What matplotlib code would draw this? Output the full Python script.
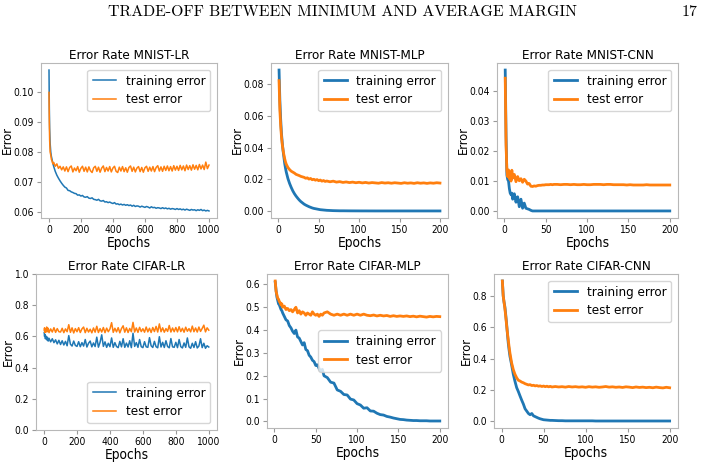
import matplotlib
matplotlib.use("Agg")
import matplotlib.pyplot as plt

plt.rcParams['font.family'] = ['DejaVu Sans']
plt.rcParams['font.stretch'] = 'condensed'

# ---- data ----
epochs_lr = [1, 3, 5, 8, 12, 16, 20, 25, 30, 40, 50, 60, 70, 80, 90] + list(range(100, 1001, 10))
epochs_nn = ([1, 2, 3, 4, 5, 6, 7, 8, 9, 10]
             + list(range(12, 61, 2))
             + list(range(64, 201, 4)))

mnist_lr_train = [
    .1075, .0950, .0880, .0830, .0800, .0785, .0775, .0762, .0752, .0735, .0722, .0712, .0703, .0695, .0688,
    .0682, .0679, .0671, .0670, .0666, .0664, .0661, .0660, .0655, .0656,
    .0652, .0654, .0649, .0648, .0650, .0645, .0644, .0646, .0641, .0640,
    .0638, .0641, .0636, .0635, .0637, .0632, .0633, .0630, .0632, .0629,
    .0627, .0630, .0625, .0626, .0623, .0625, .0622, .0624, .0621, .0623,
    .0620, .0622, .0618, .0621, .0617, .0619, .0618, .0615, .0618, .0616,
    .0614, .0617, .0615, .0612, .0616, .0613, .0614, .0611, .0613, .0612,
    .0610, .0613, .0610, .0612, .0609, .0611, .0608, .0610, .0609, .0607,
    .0610, .0607, .0609, .0606, .0608, .0605, .0608, .0606, .0604, .0607,
    .0605, .0606, .0603, .0606, .0604, .0607, .0603, .0605, .0602, .0604,
    .0602]
mnist_lr_test = [
    .1000, .0900, .0840, .0800, .0790, .0775, .0770, .0760, .0765, .0752, .0760, .0745, .0752, .0740, .0750,
    .0736, .0750, .0734, .0748, .0753, .0733, .0746, .0737, .0751, .0732,
    .0745, .0752, .0735, .0749, .0733, .0750, .0737, .0731, .0747, .0752,
    .0735, .0749, .0732, .0746, .0753, .0734, .0748, .0736, .0751, .0733,
    .0746, .0752, .0735, .0731, .0749, .0736, .0751, .0734, .0747, .0732,
    .0748, .0753, .0735, .0749, .0733, .0746, .0751, .0734, .0748, .0732,
    .0747, .0752, .0735, .0749, .0736, .0751, .0734, .0748, .0754, .0736,
    .0750, .0735, .0752, .0738, .0753, .0737, .0751, .0736, .0754, .0739,
    .0752, .0738, .0755, .0740, .0753, .0737, .0756, .0741, .0754, .0739,
    .0757, .0742, .0755, .0740, .0758, .0743, .0756, .0741, .0766, .0744,
    .0756]

cifar_lr_train = [
    .625, .600, .612, .585, .602, .578, .595, .570, .588, .565, .585, .560, .578, .552, .575,
    .548, .572, .545, .568, .540, .605, .550, .538, .570, .542,
    .536, .566, .534, .560, .538, .580, .532, .556, .570, .533,
    .558, .535, .595, .531, .562, .610, .536, .565, .530, .556,
    .534, .590, .530, .560, .535, .528, .568, .533, .585, .530,
    .557, .532, .572, .528, .620, .536, .560, .530, .580, .534,
    .528, .566, .533, .530, .592, .540, .529, .568, .534, .527,
    .598, .532, .562, .529, .572, .535, .527, .586, .533, .530,
    .562, .528, .580, .534, .526, .558, .530, .590, .533, .524,
    .556, .529, .566, .526, .538, .585, .528, .556, .524, .540,
    .532]
cifar_lr_test = [
    .640, .655, .625, .650, .628, .660, .630, .652, .624, .648, .628, .656, .626, .650, .630,
    .628, .652, .624, .648, .630, .675, .626, .655, .622, .650,
    .630, .656, .625, .648, .660, .624, .652, .628, .646, .623,
    .654, .627, .665, .625, .650, .628, .657, .624, .653, .630,
    .648, .688, .626, .652, .629, .656, .623, .650, .668, .627,
    .655, .625, .651, .630, .690, .628, .654, .626, .658, .631,
    .649, .627, .660, .629, .652, .625, .657, .631, .664, .628,
    .680, .630, .655, .627, .650, .632, .670, .628, .654, .630,
    .657, .629, .662, .631, .652, .627, .659, .633, .650, .629,
    .666, .630, .654, .628, .660, .632, .651, .672, .629, .655,
    .640]

mnist_mlp_train = [
    .0890, .0700, .0580, .0490, .0430, .0380, .0340, .0300, .0270, .0245,
    .0205, .0175, .0150, .0128, .0110, .0095, .0082, .0070, .0060, .0052,
    .0044, .0038, .0033, .0028, .0024, .0020, .0017, .0015, .0013, .0011,
    .0009, .0008, .0007, .0006, .0005, .0004, .0003, .00025, .0002, .0002,
    .00018, .00016, .00015, .00014, .00013, .00012, .00012, .00011, .00011, .0001,
    .0001, .0001, .0001, .0001, .0001, .0001, .0001, .0001, .0001, .0001,
    .0001, .0001, .0001, .0001, .0001, .0001, .0001, .0001, .0001, .0001]
mnist_mlp_test = [
    .0823, .0640, .0540, .0470, .0420, .0385, .0355, .0330, .0310, .0295,
    .0275, .0262, .0252, .0246, .0240, .0232, .0228, .0224, .0219, .0216,
    .0213, .0207, .0210, .0202, .0206, .0198, .0201, .0195, .0199, .0192,
    .0196, .0189, .0193, .0187, .0190, .0185, .0189, .0183, .0186, .0181,
    .0184, .0180, .0183, .0179, .0182, .0178, .0181, .0177, .0180, .0178,
    .0176, .0180, .0177, .0179, .0176, .0179, .0177, .0175, .0179, .0176,
    .0178, .0175, .0179, .0176, .0178, .0175, .0178, .0176, .0179, .0177]

mnist_cnn_train = [
    .0468, .0250, .0120, .0105, .0100, .0075, .0060, .0055, .0060, .0040,
    .0058, .0030, .0048, .0015, .0040, .0010, .0027, .0010, .0008, .0006,
    .0003, .0001, .0001, .0001, .0001, .0001, .0001, .0001, .0001, .0001,
    .0001, .0001, .0001, .0001, .0001, .0001, .0001, .0001, .0001, .0001,
    .0001, .0001, .0001, .0001, .0001, .0001, .0001, .0001, .0001, .0001,
    .0001, .0001, .0001, .0001, .0001, .0001, .0001, .0001, .0001, .0001,
    .0001, .0001, .0001, .0001, .0001, .0001, .0001, .0001, .0001, .0001]
mnist_cnn_test = [
    .0441, .0220, .0135, .0115, .0137, .0108, .0125, .0100, .0136, .0110,
    .0122, .0098, .0115, .0101, .0108, .0096, .0106, .0100, .0090, .0092,
    .0083, .0082, .0084, .0083, .0085, .0086, .0086, .0087, .0087, .0088,
    .0088, .0088, .0089, .0088, .0089, .0089, .0088, .0089, .0089, .0088,
    .0089, .0088, .0088, .0089, .0088, .0088, .0089, .0089, .0089, .0088,
    .0089, .0089, .0088, .0088, .0088, .0088, .0087, .0088, .0087, .0087,
    .0087, .0087, .0088, .0087, .0087, .0087, .0087, .0087, .0087, .0087]

cifar_mlp_train = [
    .610, .575, .545, .530, .515, .510, .500, .490, .485, .475,
    .460, .445, .440, .420, .410, .395, .385, .400, .370, .365,
    .350, .335, .345, .315, .310, .290, .282, .268, .262, .245,
    .248, .232, .222, .228, .200, .192, .172, .168, .138, .132,
    .118, .116, .098, .094, .078, .072, .058, .060, .046, .045,
    .036, .030, .028, .022, .019, .015, .012, .009, .008, .006,
    .005, .004, .004, .003, .003, .003, .002, .002, .002, .002]
cifar_mlp_test = [
    .615, .570, .555, .540, .535, .525, .520, .510, .515, .500,
    .505, .490, .495, .485, .490, .480, .490, .500, .475, .485,
    .470, .480, .475, .465, .475, .470, .465, .480, .470, .465,
    .470, .460, .470, .465, .475, .480, .470, .465, .470, .465,
    .470, .465, .470, .465, .470, .465, .470, .465, .463, .466,
    .462, .465, .462, .464, .460, .463, .460, .462, .460, .462,
    .459, .461, .458, .461, .459, .457, .460, .458, .460, .459]

cifar_cnn_train = [
    .895, .800, .760, .730, .680, .625, .560, .500, .455, .415,
    .360, .300, .255, .215, .190, .162, .135, .110, .080, .065,
    .050, .042, .050, .035, .030, .025, .020, .016, .013, .010,
    .009, .008, .007, .006, .006, .005, .004, .004, .003, .003,
    .003, .003, .003, .003, .003, .003, .003, .002, .002, .002,
    .002, .002, .002, .002, .002, .002, .002, .002, .002, .002,
    .002, .002, .002, .002, .002, .002, .002, .002, .002, .002]
cifar_cnn_test = [
    .895, .800, .760, .720, .670, .615, .565, .520, .475, .436,
    .373, .330, .300, .278, .262, .257, .250, .246, .240, .236,
    .232, .234, .228, .230, .226, .228, .224, .226, .222, .225,
    .221, .224, .220, .223, .219, .222, .219, .221, .218, .222,
    .219, .221, .218, .220, .217, .221, .218, .220, .217, .219,
    .222, .218, .220, .217, .219, .216, .220, .218, .215, .219,
    .216, .218, .215, .217, .214, .218, .215, .213, .217, .214]

titles = ['Error Rate MNIST-LR', 'Error Rate MNIST-MLP', 'Error Rate MNIST-CNN',
          'Error Rate CIFAR-LR', 'Error Rate CIFAR-MLP', 'Error Rate CIFAR-CNN']

# ---- layout ----
W, H = 707, 466
fig = plt.figure(figsize=(W / 100, H / 100), dpi=100)


def box(l, r, t, b):
    return [l / W, 1 - b / H, (r - l) / W, (b - t) / H]


# axes box, x, train, test, line width, legend loc, ylim, ylabel offset (px)
panels = [
    (box(41, 217, 63, 218), epochs_lr, mnist_lr_train, mnist_lr_test, 1.1, 'upper right', None, 27),
    (box(271, 448, 63, 218), epochs_nn, mnist_mlp_train, mnist_mlp_test, 2.0, 'upper right', None, 27),
    (box(497, 678, 63, 218), epochs_nn, mnist_cnn_train, mnist_cnn_test, 2.0, 'upper right', None, 27),
    (box(36, 217, 274, 430), epochs_lr, cifar_lr_train, cifar_lr_test, 1.1, 'lower right', (0, 1), 21.5),
    (box(267, 448, 274, 428), epochs_nn, cifar_mlp_train, cifar_mlp_test, 2.0, 'center right', None, 21.5),
    (box(494, 678, 274, 428), epochs_nn, cifar_cnn_train, cifar_cnn_test, 2.0, 'upper right', None, 21.5),
]

for (pos, x, tr, te, lw, loc, ylim, yoff), title in zip(panels, titles):
    ax = fig.add_axes(pos)
    ax.plot(x, tr, color='#1f77b4', lw=lw, label='training error')
    ax.plot(x, te, color='#ff7f0e', lw=lw, label='test error')
    if ylim is not None:
        ax.set_ylim(*ylim)
    if x is epochs_lr:
        ax.set_xticks([0, 200, 400, 600, 800, 1000])
    else:
        ax.set_xticks([0, 50, 100, 150, 200])
    ax.set_title(title, fontsize=9.6, pad=3)
    ax.set_xlabel('Epochs', fontsize=9.8, labelpad=1)
    ax.set_ylabel('Error', fontsize=9.2)
    ax.yaxis.set_label_coords(-yoff / (pos[2] * W), 0.5)
    ax.tick_params(labelsize=7.3, color='0.6', length=3, pad=2)
    for s in ax.spines.values():
        s.set_color('0.72')
        s.set_linewidth(0.8)
    ax.legend(loc=loc, fontsize=9.5, handlelength=1.8, handletextpad=0.7,
              labelspacing=0.4, borderaxespad=0.5)

# page header
fig.text(0.484, 0.974, 'TRADE-OFF BETWEEN MINIMUM AND AVERAGE MARGIN',
         family='cmr10', stretch='normal', fontsize=11.4, ha='center', va='center')
fig.text(0.986, 0.974, '17', family='cmr10', stretch='normal', fontsize=11.4,
         ha='right', va='center')

fig.savefig('out.png', dpi=100)
